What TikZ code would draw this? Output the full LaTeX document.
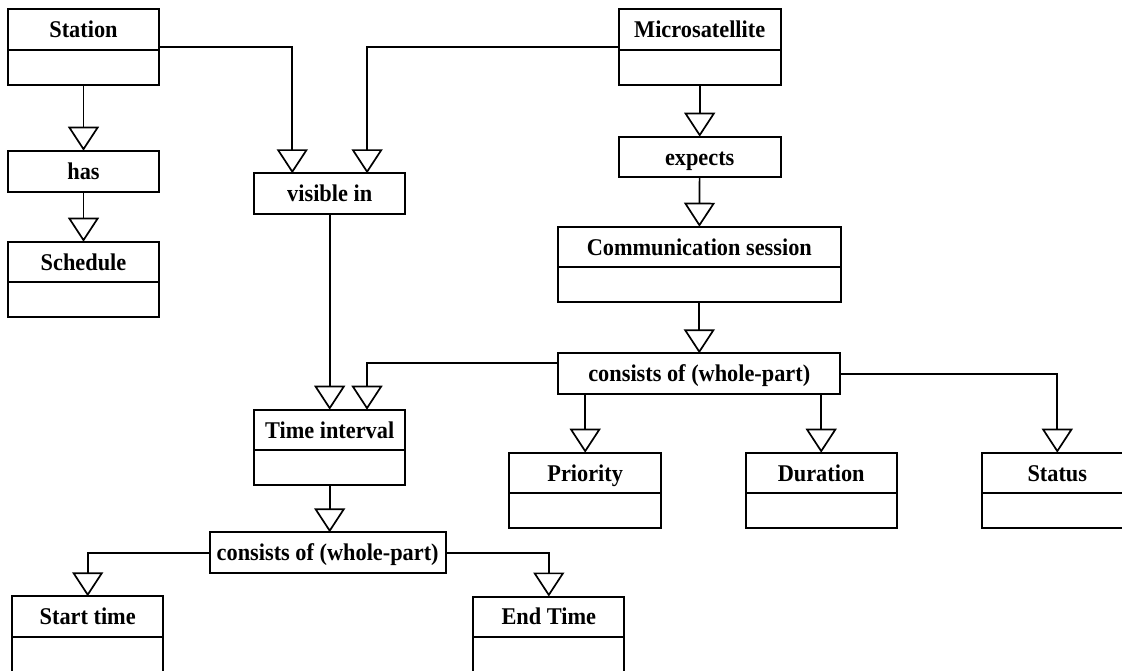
\documentclass[tikz,border=0pt]{standalone}
\usepackage{fontspec}
\setmainfont{Liberation Serif}[FakeStretch=0.93]
\usetikzlibrary{arrows.meta,calc}
\begin{document}
\begin{tikzpicture}[x=1pt,y=-1pt,
  hdr/.style={draw, line width=2pt, minimum width=#1, minimum height=40.7pt,
    inner sep=0pt, outer sep=0pt, text height=16pt, text depth=0pt,
    font=\fontsize{24}{28}\selectfont\bfseries, anchor=north},
  hdr/.default=151pt,
  bod/.style={draw, line width=2pt, minimum width=#1, minimum height=35pt,
    inner sep=0pt, outer sep=0pt, anchor=north},
  bod/.default=151pt,
  conn/.style={line width=1.7pt, -{Triangle[open, length=24pt, width=31pt]}}
]
\useasboundingbox (0,0) rectangle (1122,671);
\fill[white] (0,0) rectangle (1122,671);
\clip (0,0) rectangle (1122,671);

% classes and relations
\node[hdr] (st) at (83.5,9.3) {Station};
\node[bod] (stb) at (st.south) {};
\node[hdr=162pt] (ms) at (699.7,9.3) {Microsatellite};
\node[bod=162pt] (msb) at (ms.south) {};
\node[hdr, minimum height=41pt] (has) at (83.5,150.7) {has};
\node[hdr] (sch) at (83.5,241.7) {Schedule};
\node[bod] (schb) at (sch.south) {};
\node[hdr] (vis) at (329.7,173.3) {visible in};
\node[hdr=162pt] (exp) at (699.7,136.7) {expects};
\node[hdr=282.7pt] (cs) at (699.3,226.7) {Communication session};
\node[bod=282.7pt] (csb) at (cs.south) {};
\node[hdr=282pt] (c1) at (699.3,353.3) {consists of (whole-part)};
\node[hdr] (ti) at (329.7,409.7) {Time interval};
\node[bod] (tib) at (ti.south) {};
\node[hdr=151.7pt] (pr) at (585.2,452.7) {Priority};
\node[bod=151.7pt] (prb) at (pr.south) {};
\node[hdr] (du) at (821.2,452.7) {Duration};
\node[bod] (dub) at (du.south) {};
\node[hdr] (stt) at (1057.3,452.7) {Status};
\node[bod] (sttb) at (stt.south) {};
\node[hdr=236pt] (c2) at (327.7,532.3) {consists of (whole-part)};
\node[hdr] (sta) at (87.7,596.3) {Start time};
\node[bod, minimum height=60pt] (stab) at (sta.south) {};
\node[hdr] (en) at (548.8,596.5) {End Time};
\node[bod, minimum height=60pt] (enb) at (en.south) {};

% connectors
\draw[conn] (stb) -- (has);
\draw[conn] (has) -- (sch);
\draw[conn] ($(st.north east)!.5!(stb.south east)$) -| ([xshift=-37.4pt]vis.north);
\draw[conn] ($(ms.north west)!.5!(msb.south west)$) -| ([xshift=37.4pt]vis.north);
\draw[conn] (msb) -- (exp);
\draw[conn] (exp) -- (cs);
\draw[conn] (csb) -- (c1);
\draw[conn] (vis) -- (ti);
\draw[conn] ([yshift=-10pt]c1.north west) -| ([xshift=37.3pt]ti.north);
\draw[conn] (c1.south -| pr.north) -- (pr.north);
\draw[conn] (c1.south -| du.north) -- (du.north);
\draw[conn] (c1.east) -| (stt.north);
\draw[conn] (tib.south) -- (tib.south |- c2.north);
\draw[conn] (c2.west) -| (sta.north);
\draw[conn] (c2.east) -| (en.north);
\end{tikzpicture}
\end{document}
